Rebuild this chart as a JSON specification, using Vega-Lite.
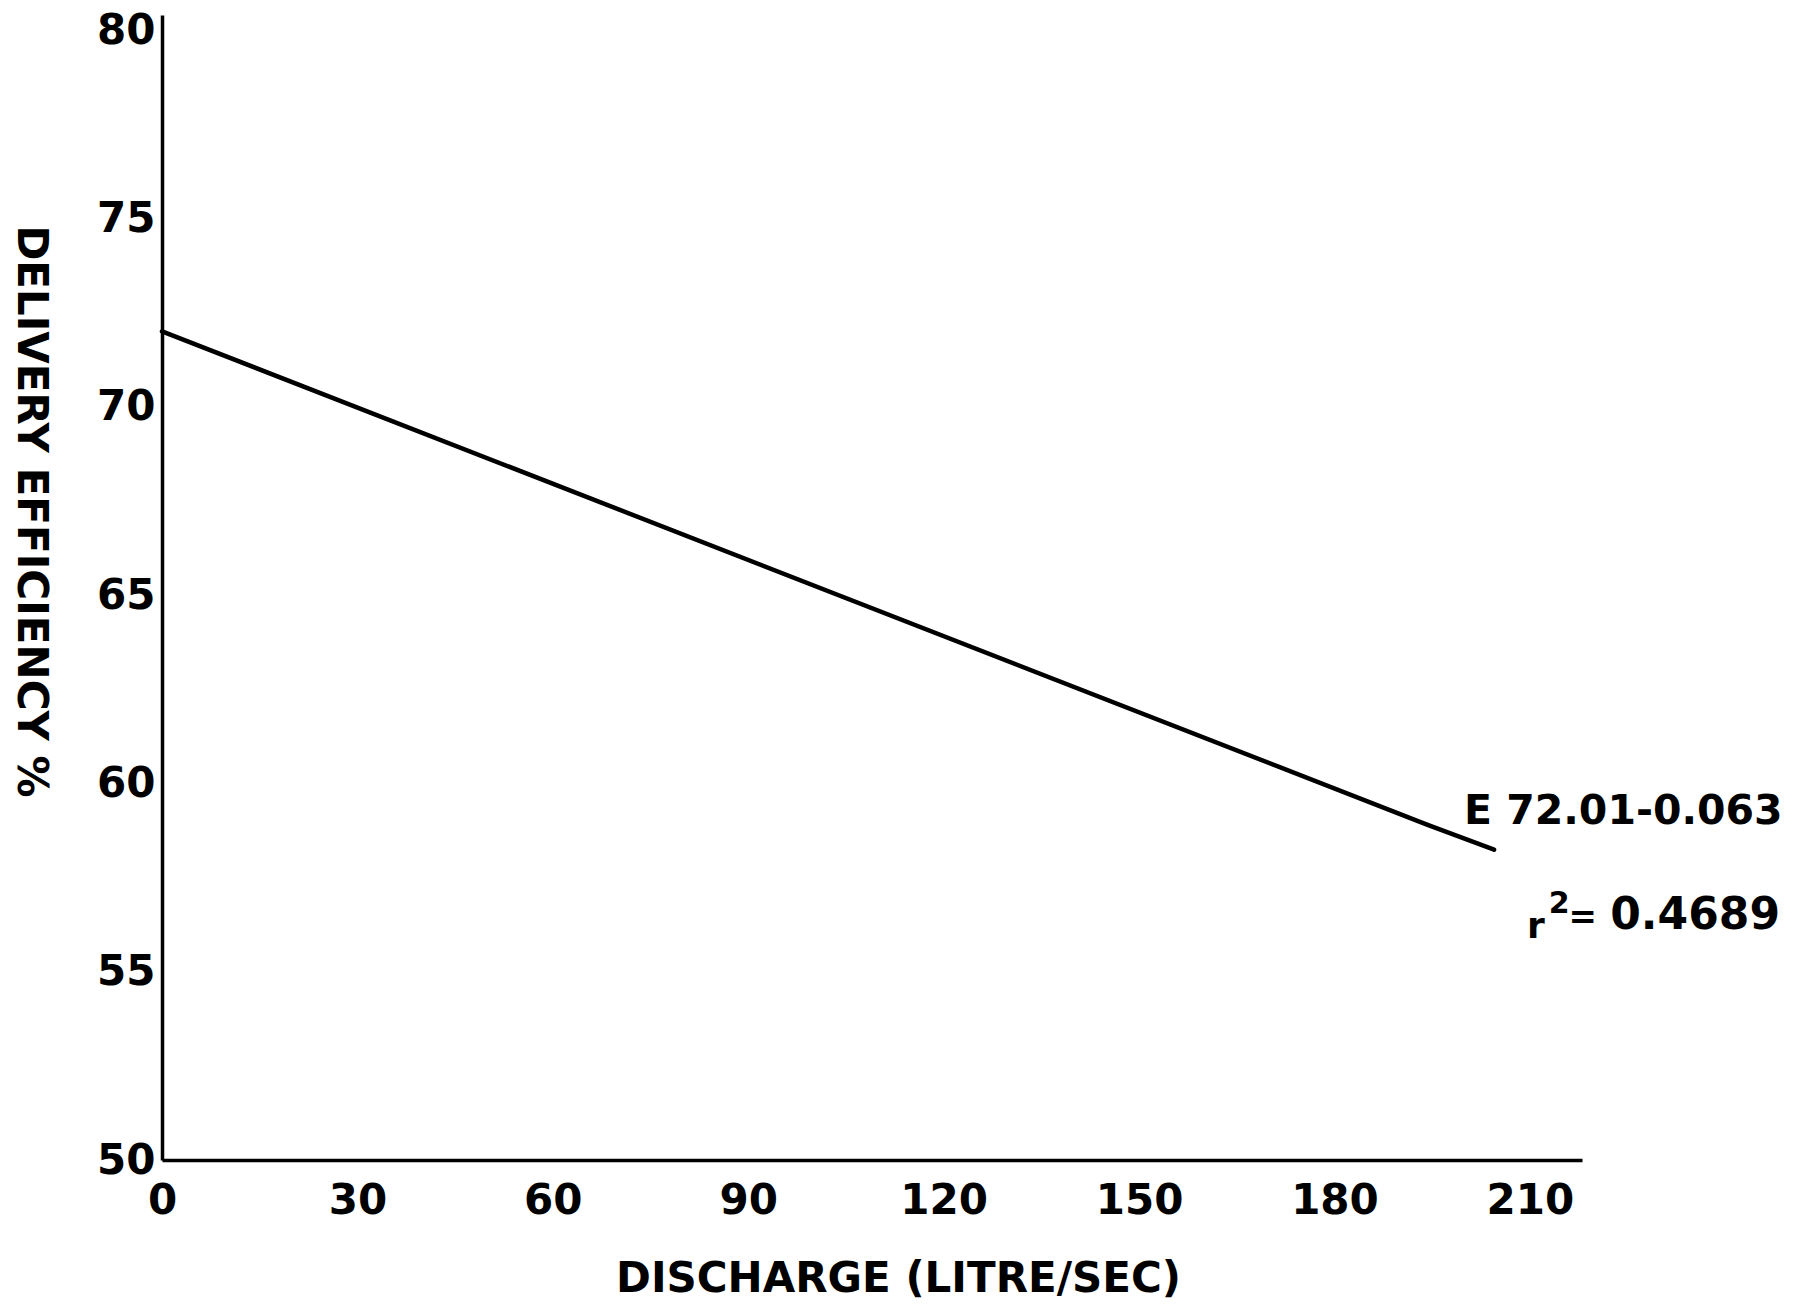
{
  "$schema": "https://vega.github.io/schema/vega-lite/v6.json",
  "autosize": {"type": "none"},
  "width": 1420,
  "height": 1145,
  "padding": {"left": 162, "top": 15, "right": 219, "bottom": 151},
  "background": "white",
  "config": {
    "view": {"stroke": null},
    "font": "DejaVu Sans",
    "axis": {"grid": false, "ticks": false, "domainColor": "black", "domainWidth": 3.5, "labelColor": "black", "titleColor": "black", "labelFont": "DejaVu Sans", "titleFont": "DejaVu Sans"}
  },
  "layer": [
    {
      "data": {"values": [
        {"discharge": 0, "efficiency": 72.0},
        {"discharge": 194.3, "efficiency": 58.9},
        {"discharge": 204.5, "efficiency": 58.24}
      ]},
      "mark": {"type": "line", "color": "black", "strokeWidth": 4.5, "strokeCap": "round"},
      "encoding": {
        "x": {"field": "discharge", "type": "quantitative", "scale": {"domain": [0, 218], "nice": false, "zero": false},
          "axis": {"values": [0, 30, 60, 90, 120, 150, 180, 210], "title": "DISCHARGE (LITRE/SEC)", "labelFontSize": 42, "labelFontWeight": "bold", "labelPadding": 20, "labelBaseline": "top", "labelFlush": false,
            "titleFontSize": 42, "titleFontWeight": "bold", "titleX": 736, "titleY": 118, "titleBaseline": "middle", "titleAlign": "center"}},
        "y": {"field": "efficiency", "type": "quantitative", "scale": {"domain": [50, 80.4], "nice": false, "zero": false},
          "axis": {"values": [50, 55, 60, 65, 70, 75, 80], "title": "DELIVERY EFFICIENCY %", "labelFontSize": 42, "labelFontWeight": "bold", "labelPadding": 7, "labelBaseline": "middle", "labelFlush": false,
            "titleFontSize": 42, "titleFontWeight": "bold", "titleAngle": 90, "titleX": -132, "titleY": 496, "titleBaseline": "middle", "titleAlign": "center"}}
      }
    },
    {
      "data": {"values": [{"discharge": 248.8, "efficiency": 59.24, "label": "E 72.01-0.063"}]},
      "mark": {"type": "text", "align": "right", "baseline": "middle", "fontSize": 41, "fontWeight": "bold", "color": "black", "clip": false},
      "encoding": {
        "x": {"field": "discharge", "type": "quantitative"},
        "y": {"field": "efficiency", "type": "quantitative"},
        "text": {"field": "label"}
      }
    },
    {
      "data": {"values": [{"discharge": 248.4, "efficiency": 56.48, "label": "0.4689"}]},
      "mark": {"type": "text", "align": "right", "baseline": "middle", "fontSize": 44, "fontWeight": "bold", "color": "black", "clip": false},
      "encoding": {
        "x": {"field": "discharge", "type": "quantitative"},
        "y": {"field": "efficiency", "type": "quantitative"},
        "text": {"field": "label"}
      }
    },
    {
      "data": {"values": [{"discharge": 218.1, "efficiency": 56.42, "label": "="}]},
      "mark": {"type": "text", "align": "center", "baseline": "middle", "fontSize": 34, "fontWeight": "bold", "color": "black", "clip": false},
      "encoding": {
        "x": {"field": "discharge", "type": "quantitative"},
        "y": {"field": "efficiency", "type": "quantitative"},
        "text": {"field": "label"}
      }
    },
    {
      "data": {"values": [{"discharge": 210.9, "efficiency": 56.19, "label": "r"}]},
      "mark": {"type": "text", "align": "center", "baseline": "middle", "fontSize": 36, "fontWeight": "bold", "color": "black", "clip": false},
      "encoding": {
        "x": {"field": "discharge", "type": "quantitative"},
        "y": {"field": "efficiency", "type": "quantitative"},
        "text": {"field": "label"}
      }
    },
    {
      "data": {"values": [{"discharge": 214.5, "efficiency": 56.8, "label": "2"}]},
      "mark": {"type": "text", "align": "center", "baseline": "middle", "fontSize": 30, "fontWeight": "bold", "color": "black", "clip": false},
      "encoding": {
        "x": {"field": "discharge", "type": "quantitative"},
        "y": {"field": "efficiency", "type": "quantitative"},
        "text": {"field": "label"}
      }
    }
  ]
}
